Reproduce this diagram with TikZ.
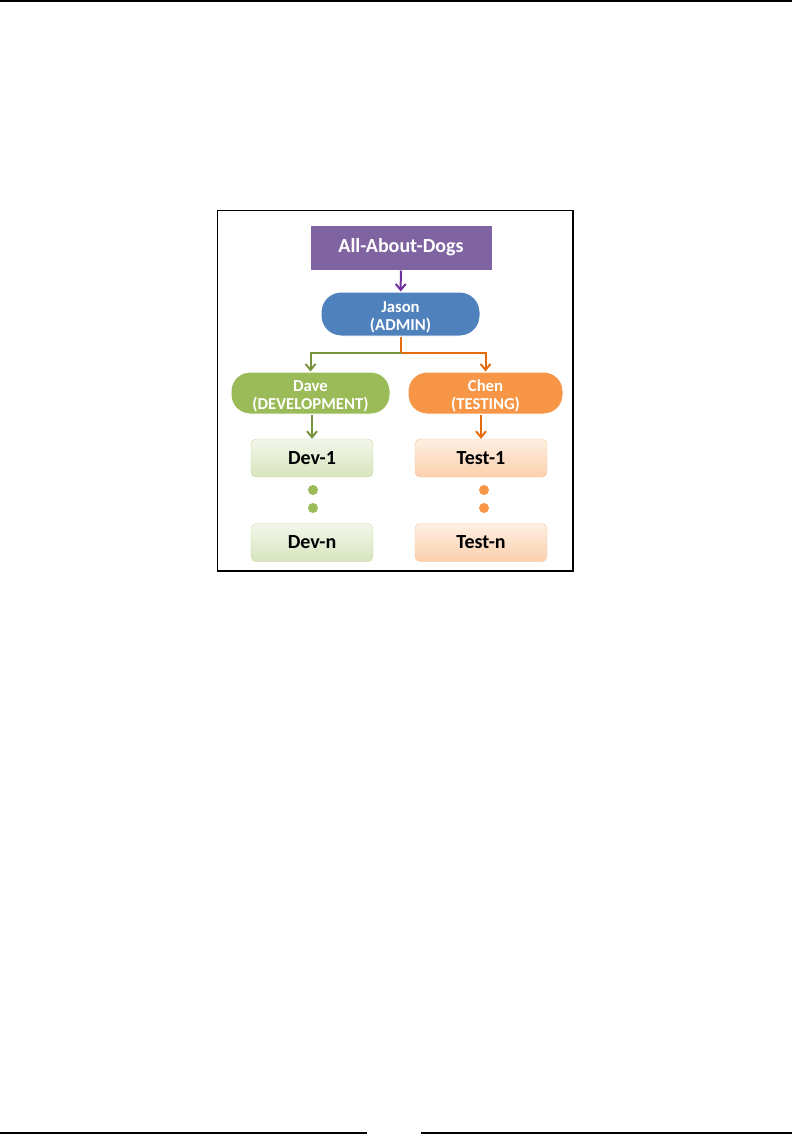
\documentclass[tikz,border=0pt]{standalone}
\usepackage{fontspec}
\setmainfont{Carlito}
\usetikzlibrary{arrows.meta}

\definecolor{rootpurple}{HTML}{8064A2}
\definecolor{linepurple}{HTML}{7030A0}
\definecolor{adminblue}{HTML}{4F81BD}
\definecolor{devgreen}{HTML}{9BBB59}
\definecolor{linegreen}{HTML}{77933C}
\definecolor{testorange}{HTML}{F79646}
\definecolor{lineorange}{HTML}{E46C0A}

\newcommand{\toprow}{\rule{0pt}{17pt}}

\begin{document}
\begin{tikzpicture}[x=1pt, y=-1pt, >={Straight Barb[length=6pt,width=10pt]},
    lead/.style={draw=white, line width=1pt, text=white, font=\bfseries,
        inner sep=0pt, align=center},
    twoline/.style={lead, font=\bfseries\fontsize{16.7}{18}\selectfont},
    member/.style={rounded corners=5pt, inner sep=0pt, font=\bfseries\fontsize{20}{20}\selectfont,
        minimum width=122pt, minimum height=38pt},
    devbox/.style={member, draw=devgreen!55, top color=devgreen!12, bottom color=devgreen!40},
    testbox/.style={member, draw=testorange!55, top color=testorange!15, bottom color=testorange!45},
    link/.style={->, line width=2pt}]

    \useasboundingbox (0,0) rectangle (792,1142);

    % Seitenlinien
    \draw[line width=1.5pt] (0,1) -- (792,1);
    \draw[line width=1.2pt] (0,1133) -- (367,1133);
    \draw[line width=1.2pt] (421,1133) -- (792,1133);

    % Rahmen
    \draw[line width=1.2pt] (217.5,210.5) rectangle (573,571);

    % Projekt
    \node[lead, fill=rootpurple, minimum width=182pt, minimum height=45pt,
        font=\bfseries\fontsize{20}{20}\selectfont] (dogs) at (401,247.5) {All-About-Dogs};

    % Admin
    \node[twoline, fill=adminblue, rounded corners=20pt, minimum width=159pt, minimum height=44pt]
        (jason) at (400.5,314) {\toprow Jason\\(ADMIN)};

    % Teams
    \node[twoline, fill=devgreen, rounded corners=19pt, minimum width=159pt, minimum height=42pt]
        (dave) at (310.5,393) {\toprow Dave\\(DEVELOPMENT)};
    \node[twoline, fill=testorange, rounded corners=19pt, minimum width=155pt, minimum height=42pt]
        (chen) at (485.5,393) {\toprow Chen\\(TESTING)};

    % Mitglieder
    \node[devbox] (dev1) at (312,458) {Dev-1};
    \node[devbox] (devn) at (312,542.5) {Dev-n};
    \node[testbox, minimum width=132pt] (test1) at (481,458) {Test-1};
    \node[testbox, minimum width=132pt] (testn) at (481,542.5) {Test-n};

    % Punkte
    \foreach \y in {490,508} {
        \fill[devgreen] (313,\y) circle (5pt);
        \fill[testorange] (484,\y) circle (5pt);
    }

    % Verbindungen
    \coordinate (split) at (400.5,353);
    \draw[link, linepurple] (dogs) -- (jason);
    \draw[link, lineorange] (jason.south) -- (split) -| (chen.north);
    \draw[link, linegreen] (split) -| (dave.north);
    \draw[link, linegreen] (dave.south -| dev1.north) -- (dev1.north);
    \draw[link, lineorange] (chen.south -| test1.north) -- (test1.north);
\end{tikzpicture}
\end{document}
